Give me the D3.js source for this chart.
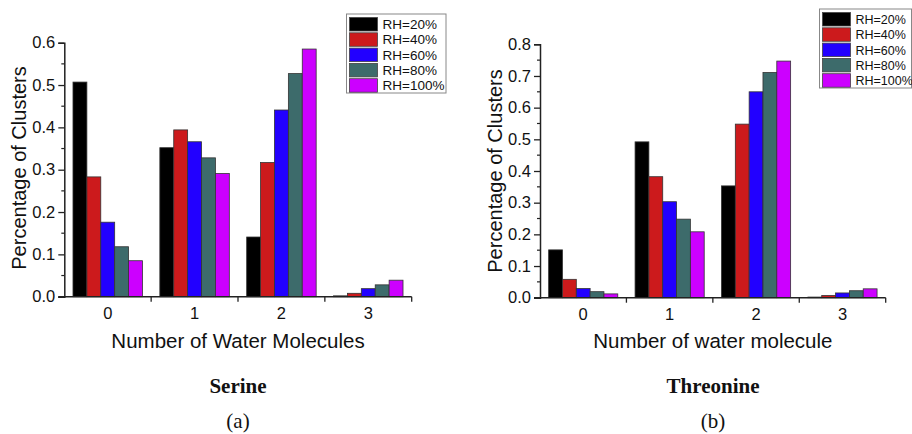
<!DOCTYPE html>
<html>
<head>
<meta charset="utf-8">
<script src="https://cdn.jsdelivr.net/npm/d3@7"></script>
<style>
  body { margin: 0; background: #fff; }
  svg { display: block; }
  text { font-family: "Liberation Sans", Arial, sans-serif; fill: #111; }
  .caption { font-family: "Liberation Serif", "Times New Roman", serif; }
</style>
</head>
<body>
<svg id="chart" width="912" height="434"></svg>
<script>
// categories + series
const categories = ['0', '1', '2', '3'];
const series = ['RH=20%', 'RH=40%', 'RH=60%', 'RH=80%', 'RH=100%'];
const colors = ['#000000', '#cc1a1c', '#2200ff', '#3d6b6b', '#cc00ff'];

// Serine values, per category (0..3) one value per RH
const serine = [
  [0.507, 0.283, 0.176, 0.118, 0.085],
  [0.352, 0.394, 0.366, 0.328, 0.291],
  [0.141, 0.317, 0.441, 0.527, 0.585],
  [0.002, 0.008, 0.019, 0.028, 0.039]
];

// Threonine values
const threonine = [
  [0.151, 0.058, 0.029, 0.019, 0.012],
  [0.492, 0.382, 0.303, 0.248, 0.208],
  [0.353, 0.548, 0.650, 0.711, 0.747],
  [0.002, 0.007, 0.015, 0.022, 0.028]
];

const svg = d3.select('#chart');

function drawPanel(opt) {
  const g = svg.append('g');

  const x = d3.scaleBand()
    .domain(categories)
    .range([opt.x0, opt.x1])
    .paddingInner(0.2)
    .paddingOuter(0.1);

  const xs = d3.scaleBand()
    .domain(series)
    .range([0, x.bandwidth()]);

  const y = d3.scaleLinear()
    .domain([0, opt.ymax])
    .range([opt.y0, opt.y1]);

  // bars
  const groups = g.selectAll('g.cat')
    .data(opt.data)
    .join('g')
    .attr('class', 'cat')
    .attr('transform', (d, i) => `translate(${x(categories[i])},0)`);

  groups.selectAll('rect')
    .data(d => d.map((v, j) => ({ v, s: series[j], c: colors[j] })))
    .join('rect')
    .attr('x', d => xs(d.s))
    .attr('width', xs.bandwidth())
    .attr('y', d => y(d.v))
    .attr('height', d => opt.y0 - y(d.v))
    .attr('fill', d => d.c)
    .attr('stroke', '#333')
    .attr('stroke-width', 0.8);

  // y axis: major ticks 0.1, minor 0.05
  const yAxis = d3.axisLeft(y)
    .tickValues(d3.range(0, opt.ymax + 0.001, 0.1))
    .tickFormat(d3.format('.1f'))
    .tickSize(6)
    .tickPadding(3);
  const ya = g.append('g')
    .attr('transform', `translate(${opt.x0},0)`)
    .call(yAxis);
  ya.select('.domain').attr('stroke', '#222').attr('stroke-width', 1.5);
  ya.selectAll('.tick line').attr('stroke', '#222').attr('stroke-width', 1.3);
  ya.selectAll('.tick text')
    .style('font-family', '"Liberation Sans", Arial, sans-serif')
    .style('font-size', '16.5px').attr('fill', '#111');

  const minorY = d3.range(0.05, opt.ymax, 0.1);
  g.selectAll('line.minor-y')
    .data(minorY)
    .join('line')
    .attr('x1', opt.x0 - 3)
    .attr('x2', opt.x0)
    .attr('y1', d => y(d))
    .attr('y2', d => y(d))
    .attr('stroke', '#222')
    .attr('stroke-width', 1.2);

  // x axis line + boundary ticks
  g.append('line')
    .attr('x1', opt.x0 - 6).attr('x2', opt.x1)
    .attr('y1', opt.y0).attr('y2', opt.y0)
    .attr('stroke', '#222').attr('stroke-width', 1.5);

  const bounds = categories.map(c => x(c) + x.bandwidth() + x.step() * 0.1);
  g.selectAll('line.xt')
    .data(bounds)
    .join('line')
    .attr('x1', d => d).attr('x2', d => d)
    .attr('y1', opt.y0).attr('y2', opt.y0 + 5)
    .attr('stroke', '#222').attr('stroke-width', 1.3);

  g.selectAll('text.xl')
    .data(categories)
    .join('text')
    .attr('x', d => x(d) + x.bandwidth() / 2)
    .attr('y', opt.y0 + 22)
    .attr('text-anchor', 'middle')
    .style('font-size', '16.5px')
    .text(d => d);

  // axis titles
  g.append('text')
    .attr('x', (opt.x0 + opt.x1) / 2)
    .attr('y', 348)
    .attr('text-anchor', 'middle')
    .style('font-size', '20.5px')
    .text(opt.xTitle);

  g.append('text')
    .attr('transform', `translate(${opt.yTitleX},${opt.yTitleY}) rotate(-90)`)
    .attr('text-anchor', 'middle')
    .style('font-size', '20px')
    .text('Percentage of Clusters');

  // captions
  g.append('text')
    .attr('class', 'caption')
    .attr('x', opt.capX).attr('y', 393)
    .attr('text-anchor', 'middle')
    .style('font-size', '21px')
    .style('font-weight', 'bold')
    .text(opt.name);

  g.append('text')
    .attr('class', 'caption')
    .attr('x', opt.capX).attr('y', 428)
    .attr('text-anchor', 'middle')
    .style('font-size', '21px')
    .text(opt.tag);

  // legend
  const lg = g.append('g').attr('transform', `translate(${opt.lx},${opt.ly})`);
  lg.append('rect')
    .attr('width', opt.lw).attr('height', 79)
    .attr('fill', '#fff')
    .attr('stroke', '#888').attr('stroke-width', 1);
  const rows = lg.selectAll('g.row')
    .data(series)
    .join('g')
    .attr('transform', (d, i) => `translate(3,${3.5 + i * 15.3})`);
  rows.append('rect')
    .attr('width', 28).attr('height', 13.5)
    .attr('fill', (d, i) => colors[i])
    .attr('stroke', '#444').attr('stroke-width', 0.8);
  rows.append('text')
    .attr('x', 33).attr('y', 11.5)
    .style('font-size', opt.lfont)
    .text(d => d);
}

drawPanel({
  data: serine, ymax: 0.6,
  x0: 64.3, x1: 411.7, y0: 296.7, y1: 42.7,
  xTitle: 'Number of Water Molecules',
  yTitleX: 26, yTitleY: 168,
  name: 'Serine', tag: '(a)', capX: 238,
  lx: 346.5, ly: 14, lw: 99.5, lfont: '13.5px'
});

drawPanel({
  data: threonine, ymax: 0.8,
  x0: 540, x1: 885.7, y0: 297.7, y1: 44.3,
  xTitle: 'Number of water molecule',
  yTitleX: 502, yTitleY: 171,
  name: 'Threonine', tag: '(b)', capX: 713,
  lx: 819.5, ly: 9, lw: 92, lfont: '12.5px'
});
</script>
</body>
</html>
